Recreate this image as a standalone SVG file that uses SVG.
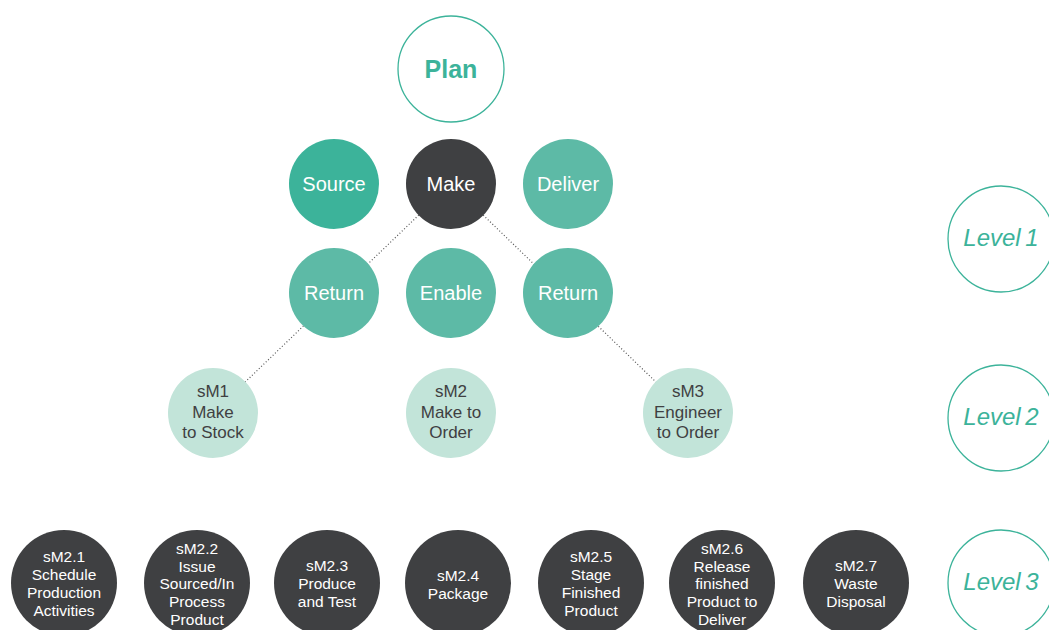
<svg xmlns="http://www.w3.org/2000/svg" width="1049" height="630" viewBox="0 0 1049 630">
  <style>
    .lbl { font-family: "Liberation Sans", Arial, sans-serif; text-anchor: middle; }
    .l1 { font-size: 20px; fill: #ffffff; }
    .l2 { font-size: 17px; fill: #3f4042; }
    .l3 { font-size: 15.5px; fill: #ffffff; }
    .lvl { font-size: 24px; font-style: italic; fill: #3cb39a; word-spacing: -2px; }
    .ring { fill: #ffffff; stroke: #3cb39a; stroke-width: 1.3; }
    .teal { fill: #5dbaa6; }
    .teal-dk { fill: #3cb39a; }
    .mint { fill: #c2e4d9; }
    .dark { fill: #3f4042; }
    .dots { stroke: #555555; stroke-width: 1.2; stroke-dasharray: 1 2.2; fill: none; }
  </style>

  <rect width="1049" height="630" fill="#ffffff"/>

  <!-- dotted connectors, drawn beneath the circles -->
  <g id="connectors">
    <line class="dots" x1="451" y1="184" x2="213" y2="413"/>
    <line class="dots" x1="451" y1="184" x2="688" y2="413"/>
  </g>

  <!-- top level -->
  <g id="plan">
    <circle class="ring" cx="451" cy="69" r="53"/>
    <text class="lbl" x="451" y="78" font-size="25" font-weight="bold" fill="#3cb39a">Plan</text>
  </g>

  <!-- level 1 processes -->
  <g id="source">
    <circle class="teal-dk" cx="334" cy="184" r="45"/>
    <text class="lbl l1" x="334" y="191">Source</text>
  </g>
  <g id="make">
    <circle class="dark" cx="451" cy="184" r="45"/>
    <text class="lbl l1" x="451" y="191">Make</text>
  </g>
  <g id="deliver">
    <circle class="teal" cx="568" cy="184" r="45"/>
    <text class="lbl l1" x="568" y="191">Deliver</text>
  </g>
  <g id="return-left">
    <circle class="teal" cx="334" cy="293" r="45"/>
    <text class="lbl l1" x="334" y="300">Return</text>
  </g>
  <g id="enable">
    <circle class="teal" cx="451" cy="293" r="45"/>
    <text class="lbl l1" x="451" y="300">Enable</text>
  </g>
  <g id="return-right">
    <circle class="teal" cx="568" cy="293" r="45"/>
    <text class="lbl l1" x="568" y="300">Return</text>
  </g>

  <!-- level 2 strategies -->
  <g id="sm1">
    <circle class="mint" cx="213" cy="413" r="45"/>
    <text class="lbl l2" x="213" y="397">sM1</text>
    <text class="lbl l2" x="213" y="417.5">Make</text>
    <text class="lbl l2" x="213" y="438">to Stock</text>
  </g>
  <g id="sm2">
    <circle class="mint" cx="451" cy="413" r="45"/>
    <text class="lbl l2" x="451" y="397">sM2</text>
    <text class="lbl l2" x="451" y="417.5">Make to</text>
    <text class="lbl l2" x="451" y="438">Order</text>
  </g>
  <g id="sm3">
    <circle class="mint" cx="688" cy="413" r="45"/>
    <text class="lbl l2" x="688" y="397">sM3</text>
    <text class="lbl l2" x="688" y="417.5">Engineer</text>
    <text class="lbl l2" x="688" y="438">to Order</text>
  </g>

  <!-- level 3 process elements -->
  <g id="sm2-1">
    <circle class="dark" cx="64" cy="583" r="53"/>
    <text class="lbl l3" x="64" y="562">sM2.1</text>
    <text class="lbl l3" x="64" y="580">Schedule</text>
    <text class="lbl l3" x="64" y="598">Production</text>
    <text class="lbl l3" x="64" y="616">Activities</text>
  </g>
  <g id="sm2-2">
    <circle class="dark" cx="197" cy="583" r="53"/>
    <text class="lbl l3" x="197" y="553.5">sM2.2</text>
    <text class="lbl l3" x="197" y="571.5">Issue</text>
    <text class="lbl l3" x="197" y="589">Sourced/In</text>
    <text class="lbl l3" x="197" y="607">Process</text>
    <text class="lbl l3" x="197" y="624.5">Product</text>
  </g>
  <g id="sm2-3">
    <circle class="dark" cx="327" cy="583" r="53"/>
    <text class="lbl l3" x="327" y="571">sM2.3</text>
    <text class="lbl l3" x="327" y="589">Produce</text>
    <text class="lbl l3" x="327" y="607">and Test</text>
  </g>
  <g id="sm2-4">
    <circle class="dark" cx="458" cy="583" r="53"/>
    <text class="lbl l3" x="458" y="581">sM2.4</text>
    <text class="lbl l3" x="458" y="599">Package</text>
  </g>
  <g id="sm2-5">
    <circle class="dark" cx="591" cy="583" r="53"/>
    <text class="lbl l3" x="591" y="562">sM2.5</text>
    <text class="lbl l3" x="591" y="580">Stage</text>
    <text class="lbl l3" x="591" y="598">Finished</text>
    <text class="lbl l3" x="591" y="616">Product</text>
  </g>
  <g id="sm2-6">
    <circle class="dark" cx="722" cy="583" r="53"/>
    <text class="lbl l3" x="722" y="553.5">sM2.6</text>
    <text class="lbl l3" x="722" y="571.5">Release</text>
    <text class="lbl l3" x="722" y="589">finished</text>
    <text class="lbl l3" x="722" y="607">Product to</text>
    <text class="lbl l3" x="722" y="624.5">Deliver</text>
  </g>
  <g id="sm2-7">
    <circle class="dark" cx="856" cy="583" r="53"/>
    <text class="lbl l3" x="856" y="571">sM2.7</text>
    <text class="lbl l3" x="856" y="589">Waste</text>
    <text class="lbl l3" x="856" y="607">Disposal</text>
  </g>

  <!-- level markers -->
  <g id="level-1">
    <circle class="ring" cx="1001" cy="239" r="53"/>
    <text class="lbl lvl" x="1001" y="246">Level 1</text>
  </g>
  <g id="level-2">
    <circle class="ring" cx="1001" cy="418" r="53"/>
    <text class="lbl lvl" x="1001" y="425">Level 2</text>
  </g>
  <g id="level-3">
    <circle class="ring" cx="1001" cy="583" r="53"/>
    <text class="lbl lvl" x="1001" y="590">Level 3</text>
  </g>
</svg>
